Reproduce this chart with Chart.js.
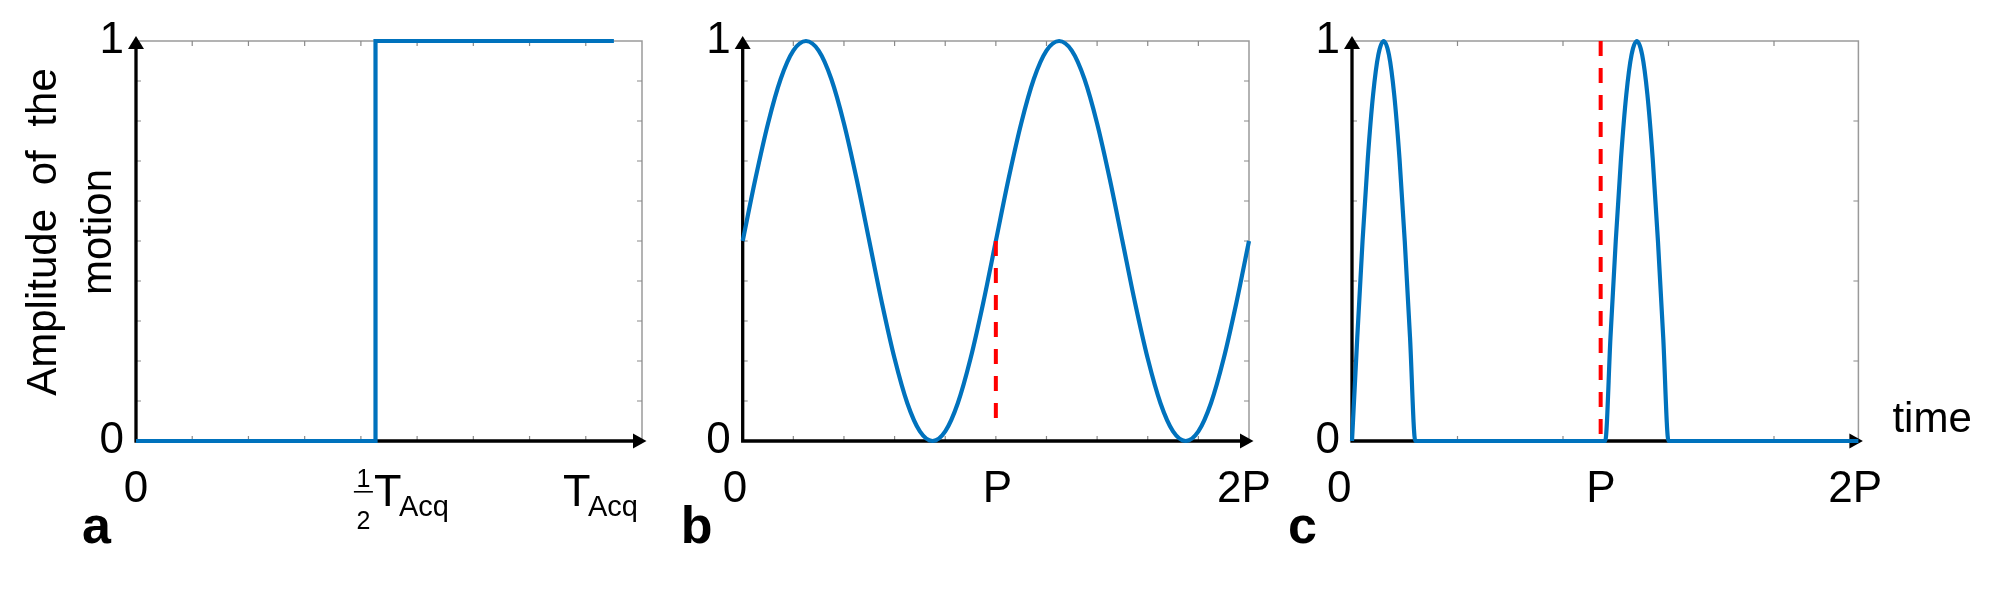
<!DOCTYPE html>
<html>
<head>
<meta charset="utf-8">
<script src="https://cdn.jsdelivr.net/npm/chart.js@4.4.1/dist/chart.umd.min.js"></script>
<style>
  html, body { margin: 0; padding: 0; background: #fff; }
  #wrap { position: relative; width: 2008px; height: 604px; }
  #wrap canvas { position: absolute; left: 0; top: 0; }
</style>
</head>
<body>
<div id="wrap">
  <canvas id="chartA" width="2008" height="604"></canvas>
  <canvas id="chartB" width="2008" height="604"></canvas>
  <canvas id="chartC" width="2008" height="604"></canvas>
</div>
<script>
// ---- panel a: step motion at half the acquisition time ----
var stepTime = [0, 4.26, 4.26, 8.5];
var stepAmp = [0, 0, 1, 1];
var aMinorX = [1, 2, 3, 4, 5, 6, 7, 8];
var aMinorY = [0.1, 0.2, 0.3, 0.4, 0.5, 0.6, 0.7, 0.8, 0.9];
var aXLabels = [
  { at: 0, text: '0' },
  { at: 4.72, frac: ['1', '2'], main: 'T', sub: 'Acq' },
  { at: 8.26, main: 'T', sub: 'Acq' }
];

// ---- panel b: periodic motion over two periods (time in P) ----
var sineTime = [0, 0.05, 0.1, 0.15, 0.2, 0.25, 0.3, 0.35, 0.4, 0.45, 0.5,
  0.55, 0.6, 0.65, 0.7, 0.75, 0.8, 0.85, 0.9, 0.95, 1,
  1.05, 1.1, 1.15, 1.2, 1.25, 1.3, 1.35, 1.4, 1.45, 1.5,
  1.55, 1.6, 1.65, 1.7, 1.75, 1.8, 1.85, 1.9, 1.95, 2];
var sineAmp = [0.5, 0.655, 0.794, 0.905, 0.976, 1, 0.976, 0.905, 0.794, 0.655, 0.5,
  0.345, 0.206, 0.095, 0.024, 0, 0.024, 0.095, 0.206, 0.345, 0.5,
  0.655, 0.794, 0.905, 0.976, 1, 0.976, 0.905, 0.794, 0.655, 0.5,
  0.345, 0.206, 0.095, 0.024, 0, 0.024, 0.095, 0.206, 0.345, 0.5];
var bMarkTime = [1, 1];
var bMarkAmp = [0.5, 0.03];
var bMinorX = [0.2, 0.4, 0.6, 0.8, 1, 1.2, 1.4, 1.6, 1.8];
var bMinorY = aMinorY;
var bXLabels = [{ at: -0.03, text: '0' }, { at: 1.006, text: 'P' }, { at: 1.98, text: '2P' }];

// ---- panel c: short motion bursts once per period ----
var pulseTime = [0, 0.05, 0.1, 0.15, 0.2, 0.25, 0.3, 0.35, 0.4, 0.45, 0.5, 0.55, 0.6,
  2.4, 2.45, 2.5, 2.55, 2.6, 2.65, 2.7, 2.75, 2.8, 2.85, 2.9, 2.95, 3.0, 4.8];
var pulseAmp = [0, 0.259, 0.5, 0.707, 0.866, 0.966, 1, 0.966, 0.866, 0.707, 0.5, 0.259, 0,
  0, 0.259, 0.5, 0.707, 0.866, 0.966, 1, 0.966, 0.866, 0.707, 0.5, 0.259, 0, 0];
var cMarkTime = [2.357, 2.357];
var cMarkAmp = [1, 0];
var cMinorX = [1, 2, 3, 4];
var cMinorY = [0.2, 0.4, 0.6, 0.8];
var cXLabels = [{ at: -0.12, text: '0' }, { at: 2.36, text: 'P' }, { at: 4.77, text: '2P' }];

var yLabels = [0, 1];

var FONT = 'Liberation Sans';
var BLUE = 'rgb(0,114,189)';
var RED = '#ff0000';
Chart.defaults.font.family = FONT;

function pts(xs, ys) {
  return xs.map(function (x, i) { return { x: x, y: ys[i] }; });
}

function drawXLabel(ctx, lab, cx, base) {
  ctx.fillStyle = '#000';
  if (!lab.main) {
    ctx.font = '44px ' + FONT;
    ctx.textAlign = 'center';
    ctx.fillText(lab.text, cx, base);
    return;
  }
  var fracW = lab.frac ? 20 : 0;
  ctx.font = '45px ' + FONT;
  var tW = ctx.measureText(lab.main).width - 2.5;
  ctx.font = '29px ' + FONT;
  var sW = ctx.measureText(lab.sub).width;
  var x = cx - (fracW + tW + sW) / 2;
  var b = base + 4;
  if (lab.frac) {
    ctx.font = '25px ' + FONT;
    ctx.textAlign = 'center';
    ctx.fillText(lab.frac[0], x + 9.5, b - 18.5);
    ctx.fillRect(x, b - 14.5, 19, 1.6);
    ctx.fillText(lab.frac[1], x + 9.5, b + 23.5);
    x += fracW;
  }
  ctx.textAlign = 'left';
  ctx.font = '45px ' + FONT;
  ctx.fillText(lab.main, x, b);
  ctx.font = '29px ' + FONT;
  ctx.fillText(lab.sub, x + tW, b + 10);
}

// box, inward ticks, arrowed axes and text around each panel
function makeDecor(cfg) {
  return {
    id: 'decor',
    beforeDatasetsDraw: function (chart) {
      var ctx = chart.ctx, a = chart.chartArea;
      var xs = chart.scales.x, ys = chart.scales.y;
      ctx.save();
      ctx.strokeStyle = '#9a9a9a';
      ctx.lineWidth = 1.5;
      ctx.beginPath();
      ctx.moveTo(a.left, a.top);
      ctx.lineTo(a.right, a.top);
      ctx.lineTo(a.right, a.bottom);
      ctx.stroke();

      ctx.lineWidth = 1.2;
      ctx.strokeStyle = '#8a8a8a';
      ctx.beginPath();
      cfg.minorX.forEach(function (v) {
        var p = xs.getPixelForValue(v);
        ctx.moveTo(p, a.bottom); ctx.lineTo(p, a.bottom - 5);
        ctx.moveTo(p, a.top); ctx.lineTo(p, a.top + 5);
      });
      cfg.minorY.forEach(function (v) {
        var p = ys.getPixelForValue(v);
        ctx.moveTo(a.left, p); ctx.lineTo(a.left + 5, p);
        ctx.moveTo(a.right, p); ctx.lineTo(a.right - 5, p);
      });
      ctx.stroke();

      ctx.strokeStyle = '#000';
      ctx.fillStyle = '#000';
      ctx.lineWidth = 3.3;
      ctx.beginPath();
      ctx.moveTo(a.left, a.bottom + 1.6);
      ctx.lineTo(a.left, a.top + 6);
      ctx.moveTo(a.left - 1.6, a.bottom);
      ctx.lineTo(a.right - 6, a.bottom);
      ctx.stroke();
      ctx.beginPath();
      ctx.moveTo(a.left, a.top - 5);
      ctx.lineTo(a.left - 8, a.top + 8);
      ctx.lineTo(a.left + 8, a.top + 8);
      ctx.closePath();
      ctx.fill();
      ctx.beginPath();
      ctx.moveTo(a.right + 4.5, a.bottom);
      ctx.lineTo(a.right - 9, a.bottom - 7.5);
      ctx.lineTo(a.right - 9, a.bottom + 7.5);
      ctx.closePath();
      ctx.fill();
      ctx.restore();
    },
    afterDraw: function (chart) {
      var ctx = chart.ctx, a = chart.chartArea, xs = chart.scales.x;
      ctx.save();
      ctx.textBaseline = 'alphabetic';
      cfg.xLabels.forEach(function (lab) {
        drawXLabel(ctx, lab, xs.getPixelForValue(lab.at), a.bottom + 60.5);
      });
      ctx.fillStyle = '#000';
      ctx.textAlign = 'left';
      ctx.font = 'bold 52px ' + FONT;
      ctx.fillText(cfg.letter, a.left - cfg.letterOff, a.bottom + 102);
      if (cfg.yTitle) {
        ctx.font = '42px ' + FONT;
        ctx.textAlign = 'center';
        if ('wordSpacing' in ctx) ctx.wordSpacing = '12px';
        cfg.yTitle.forEach(function (line, i) {
          ctx.save();
          ctx.translate(a.left - 80 + i * 55, 232);
          ctx.rotate(-Math.PI / 2);
          ctx.fillText(line, 0, 0);
          ctx.restore();
        });
        if ('wordSpacing' in ctx) ctx.wordSpacing = '0px';
      }
      if (cfg.xTitle) {
        ctx.font = '42px ' + FONT;
        ctx.textAlign = 'left';
        ctx.fillText(cfg.xTitle, a.right + 34, a.bottom - 9);
      }
      ctx.restore();
    }
  };
}

function makeChart(id, datasets, xMax, padLeft, padRight, cfg) {
  return new Chart(document.getElementById(id).getContext('2d'), {
    type: 'line',
    data: { datasets: datasets },
    options: {
      responsive: false,
      animation: false,
      events: [],
      layout: { padding: { left: padLeft, right: padRight, top: 41, bottom: 83 } },
      elements: { point: { radius: 0 } },
      plugins: { legend: { display: false }, tooltip: { enabled: false } },
      scales: {
        x: {
          type: 'linear', min: 0, max: xMax,
          grid: { display: false, drawTicks: false },
          border: { display: false },
          ticks: { display: false },
          afterFit: function (s) { s.height = 80; }
        },
        y: {
          type: 'linear', min: 0, max: 1,
          grid: { display: false, drawTicks: false },
          border: { display: false },
          afterBuildTicks: function (s) { s.ticks = yLabels.map(function (v) { return { value: v }; }); },
          ticks: { color: '#000', font: { size: 44 }, padding: 12 },
          afterFit: function (s) { s.width = 60; }
        }
      }
    },
    plugins: [makeDecor(cfg)]
  });
}

var chartA = makeChart('chartA', [{
  data: pts(stepTime, stepAmp),
  borderColor: BLUE, borderWidth: 4.2, tension: 0, clip: false
}], 9, 76, 1366, {
  minorX: aMinorX, minorY: aMinorY, xLabels: aXLabels, letter: 'a', letterOff: 54,
  yTitle: ['Amplitude of the', 'motion']
});

var chartB = makeChart('chartB', [{
  data: pts(bMarkTime, bMarkAmp),
  borderColor: RED, borderWidth: 4, borderDash: [15, 12], clip: false
}, {
  data: pts(sineTime, sineAmp),
  borderColor: BLUE, borderWidth: 4.2, cubicInterpolationMode: 'monotone', clip: false
}], 2, 682.7, 759, {
  minorX: bMinorX, minorY: bMinorY, xLabels: bXLabels, letter: 'b', letterOff: 62
});

var chartC = makeChart('chartC', [{
  data: pts(cMarkTime, cMarkAmp),
  borderColor: RED, borderWidth: 4, borderDash: [15, 12], clip: false
}, {
  data: pts(pulseTime, pulseAmp),
  borderColor: BLUE, borderWidth: 4.2, cubicInterpolationMode: 'monotone', clip: false
}], 4.8, 1292, 149.6, {
  minorX: cMinorX, minorY: cMinorY, xLabels: cXLabels, letter: 'c', letterOff: 64,
  xTitle: 'time'
});
</script>
</body>
</html>
